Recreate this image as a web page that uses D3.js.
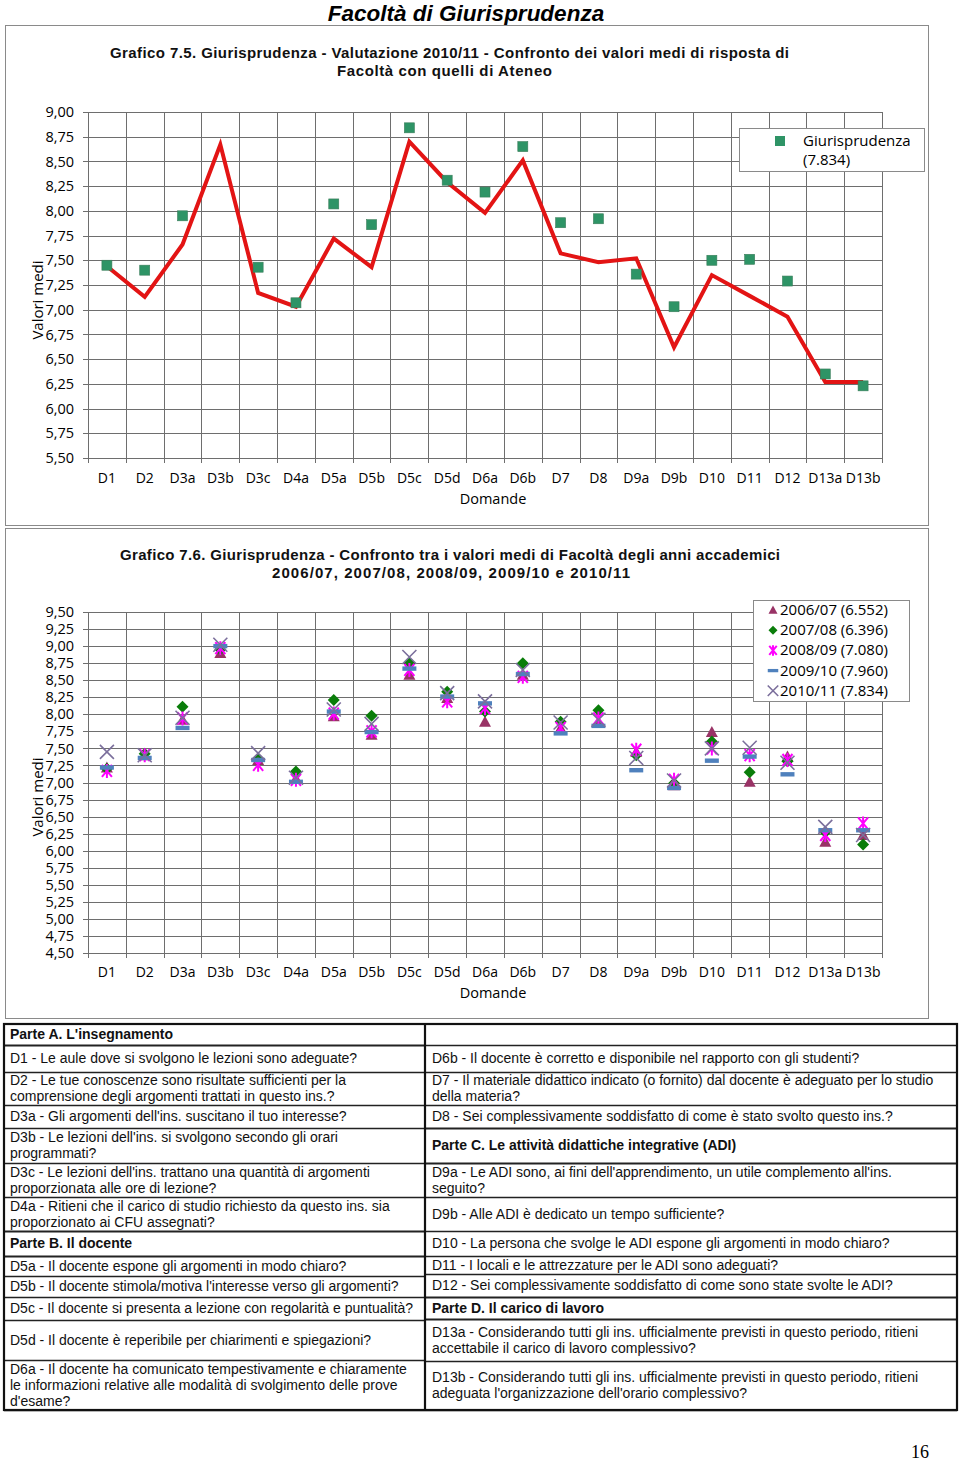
<!DOCTYPE html>
<html><head><meta charset="utf-8">
<script src="https://cdn.jsdelivr.net/npm/d3@7"></script>
<style>body{margin:0;background:#fff} svg{display:block}</style>
</head><body>
<svg id="c" width="960" height="1464"></svg>
<script>
// ---------------- DATA ----------------
const categories = ["D1","D2","D3a","D3b","D3c","D4a","D5a","D5b","D5c","D5d","D6a","D6b","D7","D8","D9a","D9b","D10","D11","D12","D13a","D13b"];
// Ateneo (red line, chart 7.5)
const ateneo = [7.44,7.13,7.66,8.67,7.17,7.03,7.72,7.43,8.70,8.29,7.98,8.51,7.57,7.48,7.52,6.62,7.35,7.14,6.93,6.27,6.27];
// Facoltà by academic year
const y2006 = [7.22,7.40,7.92,8.90,7.33,7.06,7.97,7.70,8.58,8.24,7.89,8.58,7.80,7.89,7.45,6.96,7.74,7.01,7.38,6.13,6.23];
const y2007 = [7.20,7.42,8.11,8.95,7.35,7.16,8.21,7.98,8.75,8.33,8.04,8.75,7.89,8.06,7.40,6.99,7.60,7.15,7.31,6.27,6.09];
const y2008 = [7.17,7.40,7.94,8.97,7.26,7.04,8.01,7.75,8.65,8.19,8.09,8.55,7.80,7.94,7.48,7.04,7.50,7.40,7.33,6.23,6.40];
const y2009 = [7.22,7.36,7.80,9.00,7.33,7.01,8.04,7.74,8.67,8.26,8.16,8.59,7.72,7.83,7.18,6.92,7.32,7.38,7.12,6.30,6.30];
const y2010 = [7.45,7.40,7.95,9.02,7.43,7.07,8.07,7.86,8.84,8.31,8.19,8.65,7.88,7.92,7.36,7.03,7.50,7.51,7.29,6.35,6.23];
const ticks1 = [5.5,5.75,6,6.25,6.5,6.75,7,7.25,7.5,7.75,8,8.25,8.5,8.75,9];
const ticks2 = [4.5,4.75,5,5.25,5.5,5.75,6,6.25,6.5,6.75,7,7.25,7.5,7.75,8,8.25,8.5,8.75,9,9.25,9.5];
const legend1 = ["Giurisprudenza","(7.834)"];
const seriesNames2 = ["2006/07 (6.552)","2007/08 (6.396)","2008/09 (7.080)","2009/10 (7.960)","2010/11 (7.834)"];
const pageTitle = "Facoltà di Giurisprudenza";
const title1 = ["Grafico 7.5. Giurisprudenza - Valutazione 2010/11 - Confronto dei valori medi di risposta di","Facoltà con quelli di Ateneo"];
const title2 = ["Grafico 7.6. Giurisprudenza - Confronto tra i valori medi di Facoltà degli anni accademici","2006/07, 2007/08, 2008/09, 2009/10 e 2010/11"];
const leftRows = [
  {b:true, t:["Parte A. L'insegnamento"]},
  {t:["D1 - Le aule dove si svolgono le lezioni sono adeguate?"]},
  {t:["D2 - Le tue conoscenze sono risultate sufficienti per la","comprensione degli argomenti trattati in questo ins.?"]},
  {t:["D3a - Gli argomenti dell'ins. suscitano il tuo interesse?"]},
  {t:["D3b - Le lezioni dell'ins. si svolgono secondo gli orari","programmati?"]},
  {t:["D3c - Le lezioni dell'ins. trattano una quantità di argomenti","proporzionata alle ore di lezione?"]},
  {t:["D4a - Ritieni che il carico di studio richiesto da questo ins. sia","proporzionato ai CFU assegnati?"]},
  {b:true, t:["Parte B. Il docente"]},
  {t:["D5a - Il docente espone gli argomenti in modo chiaro?"]},
  {t:["D5b - Il docente stimola/motiva l'interesse verso gli argomenti?"]},
  {t:["D5c - Il docente si presenta a lezione con regolarità e puntualità?"]},
  {t:["D5d - Il docente è reperibile per chiarimenti e spiegazioni?"]},
  {t:["D6a - Il docente ha comunicato tempestivamente e chiaramente","le informazioni relative alle modalità di svolgimento delle prove","d'esame?"]}
];
const rightRows = [
  {t:[]},
  {t:["D6b - Il docente è corretto e disponibile nel rapporto con gli studenti?"]},
  {t:["D7 - Il materiale didattico indicato (o fornito) dal docente è adeguato per lo studio","della materia?"]},
  {t:["D8 - Sei complessivamente soddisfatto di come è stato svolto questo ins.?"]},
  {b:true, t:["Parte C. Le attività didattiche integrative (ADI)"]},
  {t:["D9a - Le ADI sono, ai fini dell'apprendimento, un utile complemento all'ins.","seguito?"]},
  {t:["D9b - Alle ADI è dedicato un tempo sufficiente?"]},
  {t:["D10 - La persona che svolge le ADI espone gli argomenti in modo chiaro?"]},
  {t:["D11 - I locali e le attrezzature per le ADI sono adeguati?"]},
  {t:["D12 - Sei complessivamente soddisfatto di come sono state svolte le ADI?"]},
  {b:true, t:["Parte D. Il carico di lavoro"]},
  {t:["D13a - Considerando tutti gli ins. ufficialmente previsti in questo periodo, ritieni","accettabile il carico di lavoro complessivo?"]},
  {t:["D13b - Considerando tutti gli ins. ufficialmente previsti in questo periodo, ritieni","adeguata l'organizzazione dell'orario complessivo?"]}
];

// ---------------- LAYOUT ----------------
const svg = d3.select("#c");
const it = d3.formatLocale({decimal:",", thousands:".", grouping:[3], currency:["€",""]});
const fmt = it.format(".2f");
const AX = "'Open Sans', sans-serif";
const TF = "'Liberation Sans', Arial, sans-serif";
const GRID = "#6e6e6e";

svg.append("text").attr("x",466).attr("y",21).attr("text-anchor","middle")
  .attr("font-family",TF).attr("font-style","italic").attr("font-weight","bold")
  .attr("font-size",22.5).text(pageTitle);

function frame(x,y,w,h){
  svg.append("rect").attr("x",x+0.5).attr("y",y+0.5).attr("width",w).attr("height",h)
    .attr("fill","none").attr("stroke","#8a8a8a").attr("stroke-width",1);
}
function titleLines(lines, spans, y0){
  lines.forEach((l,i)=>svg.append("text").attr("x",spans[i][0]).attr("y",y0+i*18)
    .attr("textLength",spans[i][1]-spans[i][0]).attr("lengthAdjust","spacing")
    .attr("font-family",TF).attr("font-weight","bold").attr("font-size",15).attr("fill","#111").text(l));
}

function plotBase(cfg){
  const g = svg.append("g");
  const x = d3.scaleBand().domain(categories).range([cfg.x0,cfg.x1]);
  const y = d3.scaleLinear().domain(cfg.domain).range([cfg.yb,cfg.yt]);
  g.selectAll(".hg").data(cfg.ticks).join("line")
    .attr("x1",cfg.x0-5).attr("x2",cfg.x1).attr("y1",d=>Math.round(y(d))+0.5).attr("y2",d=>Math.round(y(d))+0.5)
    .attr("stroke",GRID).attr("stroke-width",1);
  const bounds = categories.map(c=>x(c)).concat([cfg.x1]);
  g.selectAll(".vg").data(bounds).join("line")
    .attr("x1",d=>Math.round(d)+0.5).attr("x2",d=>Math.round(d)+0.5)
    .attr("y1",cfg.yt).attr("y2",cfg.yb+5)
    .attr("stroke",GRID).attr("stroke-width",1);
  const ya = d3.axisLeft(y).tickValues(cfg.ticks).tickFormat(fmt).tickSize(0).tickPadding(14);
  const yg = g.append("g").attr("transform",`translate(${cfg.x0},0)`).call(ya);
  yg.select(".domain").remove();
  yg.selectAll("text").attr("font-family",AX).attr("font-size",14.5).attr("fill","#000");
  const xa = d3.axisBottom(x).tickSize(0).tickPadding(cfg.xpad);
  const xg = g.append("g").attr("transform",`translate(0,${cfg.yb})`).call(xa);
  xg.select(".domain").remove();
  xg.selectAll("text").attr("font-family",AX).attr("font-size",14).attr("fill","#000");
  g.append("text").attr("x",493).attr("y",cfg.domY).attr("text-anchor","middle")
    .attr("font-family",AX).attr("font-size",14.5).text("Domande");
  g.append("text").attr("transform",`translate(43,${cfg.labY}) rotate(-90)`).attr("text-anchor","middle")
    .attr("font-family",AX).attr("font-size",15).text("Valori medi");
  return {g,x,y};
}

// ---------------- CHART 7.5 ----------------
frame(5,25,923,500);
titleLines(title1, [[110,789],[337,552]], 58);
const c1 = plotBase({x0:88,x1:882,yt:112,yb:458,domain:[5.5,9],ticks:ticks1,xpad:15,domY:504,labY:300});
const line = d3.line().x((d,i)=>c1.x(categories[i])+c1.x.bandwidth()/2).y(d=>c1.y(d));
c1.g.append("path").datum(ateneo).attr("d",line).attr("fill","none")
  .attr("stroke","#e31414").attr("stroke-width",4).attr("stroke-linejoin","miter");
const pts1 = y2010.map((v,i)=>({c:categories[i],v})).filter(d=>d.v<=9);
c1.g.selectAll(".sq").data(pts1).join("rect")
  .attr("x",d=>c1.x(d.c)+c1.x.bandwidth()/2-5).attr("y",d=>c1.y(d.v)-5)
  .attr("width",10).attr("height",10).attr("fill","#2e9466").attr("stroke","#3a7d5a").attr("stroke-width",0.6);
svg.append("rect").attr("x",739.5).attr("y",128.5).attr("width",185).attr("height",43)
  .attr("fill","#fff").attr("stroke","#8a8a8a");
svg.append("rect").attr("x",775).attr("y",136).attr("width",10).attr("height",10).attr("fill","#2e9466");
legend1.forEach((t,i)=>svg.append("text").attr("x",803).attr("y",146+i*19)
  .attr("font-family",AX).attr("font-size",15).text(t));

// ---------------- CHART 7.6 ----------------
frame(5,528,923,490);
titleLines(title2, [[120,780],[272,630]], 560);
const c2 = plotBase({x0:88,x1:882,yt:612,yb:953,domain:[4.5,9.5],ticks:ticks2,xpad:14,domY:998,labY:797});

const sym = {
  tri: {path:"M0,-6L6,5L-6,5Z", fill:"#993366", stroke:"none"},
  dia: {path:"M0,-6L6,0L0,6L-6,0Z", fill:"#0a7d0a", stroke:"none"},
  ast: {path:"M-5,-6L5,6M5,-6L-5,6M0,-7L0,7", fill:"none", stroke:"#ff00ff", sw:2},
  dash:{path:"M-7,-2.2L7,-2.2L7,2.2L-7,2.2Z", fill:"#4f81bd", stroke:"none"},
  x:   {path:"M-7,-7L7,7M7,-7L-7,7", fill:"none", stroke:"#7b6f9c", sw:1.6}
};
const series2 = [
  {vals:y2006, s:sym.tri},{vals:y2007, s:sym.dia},{vals:y2008, s:sym.ast},{vals:y2009, s:sym.dash},{vals:y2010, s:sym.x}
];
series2.forEach(se=>{
  c2.g.append("g").selectAll("path").data(se.vals.map((v,i)=>({c:categories[i],v}))).join("path")
    .attr("transform",d=>`translate(${c2.x(d.c)+c2.x.bandwidth()/2},${c2.y(d.v)})`)
    .attr("d",se.s.path).attr("fill",se.s.fill).attr("stroke",se.s.stroke).attr("stroke-width",se.s.sw||0);
});
svg.append("rect").attr("x",753.5).attr("y",600.5).attr("width",156).attr("height",101)
  .attr("fill","#fff").attr("stroke","#8a8a8a");
series2.forEach((se,i)=>{
  const yy = 610+i*20.2;
  svg.append("path").attr("transform",`translate(773,${yy}) scale(0.75)`).attr("d",se.s.path)
    .attr("fill",se.s.fill).attr("stroke",se.s.stroke).attr("stroke-width",(se.s.sw||0)/0.75);
  svg.append("text").attr("x",780).attr("y",yy+5).attr("font-family",AX).attr("font-size",15).text(seriesNames2[i]);
});

// ---------------- TABLE ----------------
const leftB  = [1024,1045,1072,1105,1128,1163,1197,1231,1256,1276,1297,1320,1360,1410];
const rightB = [1024,1045,1072,1105,1128,1163,1197,1231,1256,1274,1297,1319,1361,1410];
const tx0 = 4, tmid = 425, tx1 = 957;
function col(rows, bounds, xa, xb, tx){
  rows.forEach((r,i)=>{
    const top = bounds[i], bot = bounds[i+1], mid=(top+bot)/2;
    svg.append("line").attr("x1",xa).attr("x2",xb).attr("y1",bot+0.5).attr("y2",bot+0.5)
      .attr("stroke","#222").attr("stroke-width",r.b||(rows[i+1]&&rows[i+1].b)?2:1.3);
    const n = r.t.length;
    r.t.forEach((l,k)=>svg.append("text").attr("x",tx).attr("y",mid+4.5+(k-(n-1)/2)*16)
      .attr("font-family",TF).attr("font-size",14).attr("font-weight",r.b?"bold":"normal").attr("fill","#111").text(l));
  });
}
col(leftRows, leftB, tx0, tmid, 10);
col(rightRows, rightB, tmid, tx1, 432);
svg.append("rect").attr("x",tx0).attr("y",1024).attr("width",tx1-tx0).attr("height",1410-1024)
  .attr("fill","none").attr("stroke","#111").attr("stroke-width",2.2);
svg.append("line").attr("x1",tmid).attr("x2",tmid).attr("y1",1024).attr("y2",1410).attr("stroke","#111").attr("stroke-width",2.2);

svg.append("text").attr("x",920).attr("y",1458).attr("text-anchor","middle")
  .attr("font-family","'Liberation Serif', serif").attr("font-size",18).text("16");
</script>
</body></html>
